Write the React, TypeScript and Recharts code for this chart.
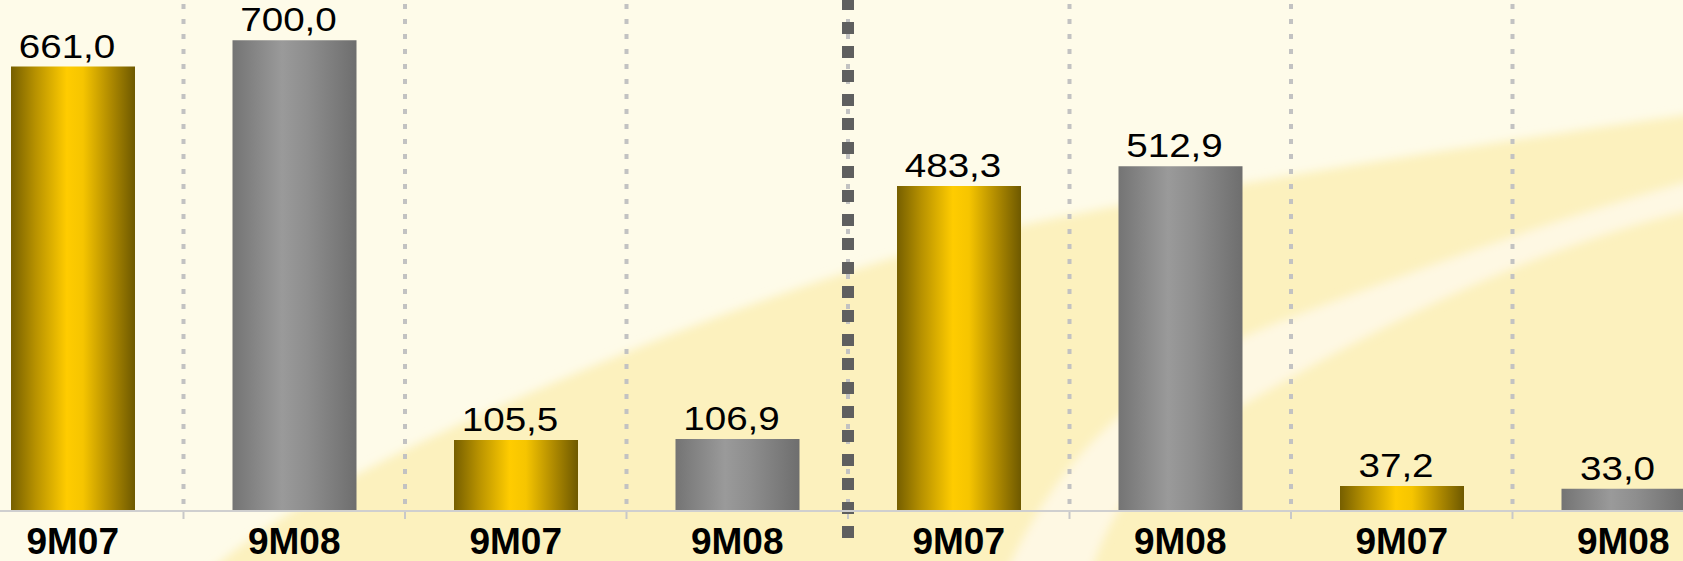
import React from 'react';
import { BarChart, Bar, XAxis, YAxis, CartesianGrid, Cell, LabelList } from 'recharts';

const categories = ['9M07', '9M08', '9M07', '9M08', '9M07', '9M08', '9M07', '9M08'];
const values = [661.0, 700.0, 105.5, 106.9, 483.3, 512.9, 37.2, 33.0];
const fillKeys = ['gold', 'gray', 'gold', 'gray', 'gold', 'gray', 'gold', 'gray'];
const separatorAfter = 4; // boundary between the two groups of four

const data = categories.map((c, i) => ({ id: i, label: c, value: values[i], fillKey: fillKeys[i] }));

const W = 1683;
const H = 561;
const CHART_W = 1772;
const CHART_LEFT = -38;

const fmt = (v: number) => v.toFixed(1).replace('.', ',');

const boundaries = (offset: any, only?: number) => {
  const n = categories.length;
  const out: number[] = [];
  for (let k = 1; k < n; k++) {
    if (only === undefined || only === k) out.push(offset.left + (offset.width * k) / n);
  }
  return out;
};

const ValueLabel = (props: any) => {
  const { x, y, width, value } = props;
  const cx = Number(x) + Number(width) / 2 - 6;
  const cy = Number(y) - 9;
  return (
    <text
      transform={`translate(${cx},${cy}) scale(1.17,1)`}
      x={0}
      y={0}
      textAnchor="middle"
      fontFamily="'Liberation Sans', Arial, sans-serif"
      fontSize={33}
      fill="#000"
    >
      {fmt(Number(value))}
    </text>
  );
};

const CatTick = (props: any) => {
  const { x, y, payload } = props;
  const label = categories[Number(payload.value)] ?? '';
  return (
    <text
      x={x}
      y={Number(y) + 43}
      textAnchor="middle"
      fontFamily="'Liberation Sans', Arial, sans-serif"
      fontWeight="bold"
      fontSize={37}
      fill="#000"
    >
      {label}
    </text>
  );
};

const Background = () => (
  <svg width={W} height={H} style={{ position: 'absolute', left: 0, top: 0 }}>
    <defs>
      <filter id="soft" x="-10%" y="-10%" width="120%" height="120%">
        <feGaussianBlur stdDeviation="5" />
      </filter>
    </defs>
    <rect x={0} y={0} width={W} height={H} fill="#FEFBE9" />
    <path
      d="M 200 580 C 280 505, 420 440, 560 380 S 860 262, 1000 230 S 1450 148, 1700 113 L 1700 600 L 200 600 Z"
      fill="#FCF1BE"
      filter="url(#soft)"
    />
    <path
      d="M 1005 575 C 1060 450, 1150 370, 1292 317 S 1550 220, 1700 178 L 1700 208 C 1560 240, 1420 305, 1292 377 S 1120 480, 1090 575 Z"
      fill="#FEF8E3"
      filter="url(#soft)"
    />
  </svg>
);

export default function App() {
  return (
    <div
      style={{
        position: 'absolute',
        left: 0,
        top: 0,
        width: W,
        height: H,
        overflow: 'hidden',
        background: '#FEFBE9',
      }}
    >
      <Background />
      <div style={{ position: 'absolute', left: CHART_LEFT, top: 0 }}>
        <BarChart
          width={CHART_W}
          height={H}
          data={data}
          margin={{ top: 0, right: 0, bottom: 0, left: 0 }}
          barCategoryGap={0}
        >
          <defs>
            <linearGradient id="gold" x1="0" y1="0" x2="1" y2="0">
              <stop offset="0" stopColor="#765F00" />
              <stop offset="0.2" stopColor="#B89200" />
              <stop offset="0.45" stopColor="#FFCC00" />
              <stop offset="0.58" stopColor="#F6C500" />
              <stop offset="0.8" stopColor="#B08B00" />
              <stop offset="1" stopColor="#6E5900" />
            </linearGradient>
            <linearGradient id="gray" x1="0" y1="0" x2="1" y2="0">
              <stop offset="0" stopColor="#747474" />
              <stop offset="0.4" stopColor="#9A9A9A" />
              <stop offset="0.6" stopColor="#8E8E8E" />
              <stop offset="1" stopColor="#6E6E6E" />
            </linearGradient>
          </defs>
          <CartesianGrid
            horizontal={false}
            vertical
            y={4}
            height={507}
            stroke="#C2C2C2"
            strokeWidth={4}
            strokeDasharray="5 10"
            verticalCoordinatesGenerator={({ offset }: any) => boundaries(offset)}
          />
          <CartesianGrid
            horizontal={false}
            vertical
            y={511}
            height={8}
            stroke="#C8C8C8"
            strokeWidth={2}
            verticalCoordinatesGenerator={({ offset }: any) => boundaries(offset)}
          />
          <CartesianGrid
            horizontal={false}
            vertical
            y={-2}
            height={540}
            stroke="#5F5F5F"
            strokeWidth={12}
            strokeDasharray="12 12"
            verticalCoordinatesGenerator={({ offset }: any) => boundaries(offset, separatorAfter)}
          />
          <XAxis
            dataKey="id"
            type="category"
            height={50}
            tickSize={0}
            tickMargin={0}
            tickLine={false}
            axisLine={{ stroke: '#CFCFCF', strokeWidth: 2 }}
            tick={<CatTick />}
            interval={0}
          />
          <YAxis hide domain={[0, 760]} />
          <Bar dataKey="value" barSize={124} isAnimationActive={false}>
            {data.map((d) => (
              <Cell key={d.id} fill={`url(#${d.fillKey})`} />
            ))}
            <LabelList dataKey="value" content={<ValueLabel />} />
          </Bar>
        </BarChart>
      </div>
    </div>
  );
}
